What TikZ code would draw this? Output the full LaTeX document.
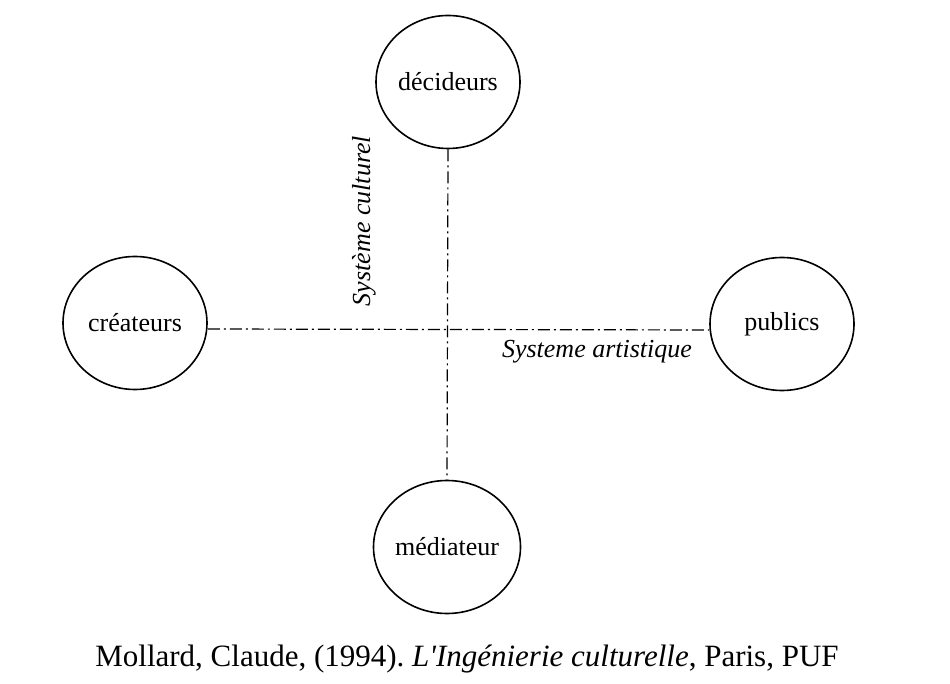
\documentclass[tikz,border=0pt]{standalone}
\usepackage{fontspec}
\setmainfont{Liberation Serif}
\usetikzlibrary{shapes.geometric,positioning,calc}
\tikzset{
  acteur/.style={draw=black,ellipse,line width=1.6pt,minimum width=144pt,minimum height=133pt,inner sep=0pt,font=\fontsize{26}{30}\selectfont},
  axe/.style={draw=black,line width=1.2pt,dash pattern=on 12pt off 4pt on 2pt off 4pt},
  lab/.style={font=\fontsize{26}{30}\selectfont\itshape,inner sep=0pt},
}
\begin{document}
\frenchspacing
\begin{tikzpicture}[x=1pt,y=1pt]
\useasboundingbox (0,0) rectangle (950,683);
\node[acteur] (dec) at (448,601) {décideurs};
\node[acteur] (cre) at (135,360) {créateurs};
\node[acteur] (pub) at (782,359) {publics};
\node[acteur] (med) at (447,136) {médiateur};
% axes
\draw[axe] ([yshift=-6pt]cre.east) -- ([yshift=-6pt]pub.west);
\draw[axe] (dec.south) -- (med.north);
\node[lab,rotate=90] (cult) at (364,462) {Système culturel};
\node[lab] (art) at (597,331) {Systeme artistique};
\node[inner sep=0pt,font=\fontsize{31}{36}\selectfont] (src) at (467,24) {Mollard, Claude, (1994). \textit{L\textquotesingle Ingénierie culturelle}, Paris, PUF};
\end{tikzpicture}
\end{document}
